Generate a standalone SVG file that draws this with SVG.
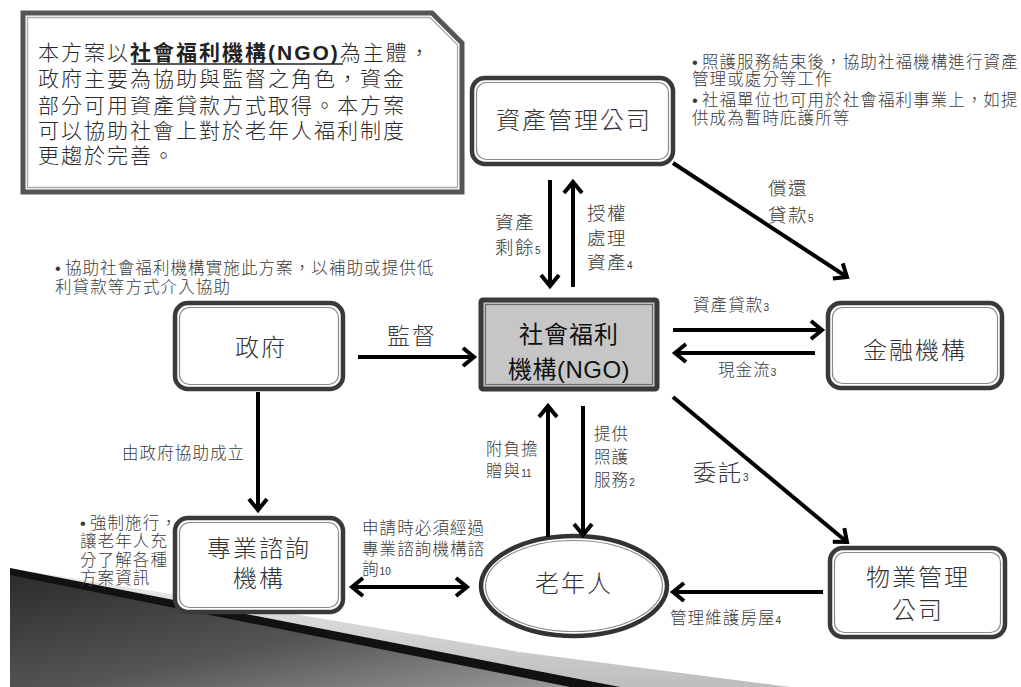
<svg xmlns="http://www.w3.org/2000/svg" width="1021" height="687" viewBox="0 0 1021 687">
<style>
text{font-family:"Liberation Sans","Noto Sans CJK TC",sans-serif;fill:#3a3a3a;font-weight:300}
.note{font-size:16.5px;letter-spacing:1.1px}
.lbl{font-size:18.5px;letter-spacing:1.5px}
.big{font-size:23px;letter-spacing:2px}
.node{font-size:24px;letter-spacing:2px;text-anchor:middle;fill:#333}
.intro{font-size:21px;letter-spacing:2px;fill:#2a2a2a}
.sub{font-size:10px;letter-spacing:0}
.outer{fill:#fff;stroke:#3a3a3a;stroke-width:4.5}
.inner{fill:none;stroke:#8a8a8a;stroke-width:1.2}
.conn line{stroke:#000;stroke-width:4;fill:none}
</style>
<defs>
<marker id="ah" viewBox="-14 -11 19 22" refX="0" refY="0" markerWidth="19" markerHeight="22" markerUnits="userSpaceOnUse" orient="auto-start-reverse">
<path d="M-11,-9 L0,0 L-11,9" fill="none" stroke="#000" stroke-width="4"/>
</marker>
<linearGradient id="dark" x1="0" y1="0" x2="1" y2="1">
<stop offset="0" stop-color="#2c2c2c"/>
<stop offset="0.55" stop-color="#555"/>
<stop offset="1" stop-color="#9a9a9a"/>
</linearGradient>
<linearGradient id="light" x1="0" y1="0" x2="0" y2="1">
<stop offset="0" stop-color="#eeeeee"/>
<stop offset="1" stop-color="#bdbdbd"/>
</linearGradient>
</defs>
<rect width="1021" height="687" fill="#fff"/>

<g id="decoration">
<polygon points="10,568 300,615 520,652 790,687 10,687" fill="url(#light)"/>
<polygon points="10,568 620,687 10,687" fill="#111"/>
<polygon points="10,575 570,687 10,687" fill="url(#dark)"/>
</g>

<g id="intro-box">
<path d="M23,13 H432 L462,43 V192 H23 Z" fill="#fff" stroke="#555" stroke-width="5"/>
<path d="M27.5,17.5 H430 L457.5,45 V187.5 H27.5 Z" fill="none" stroke="#aaa" stroke-width="1.3"/>
<text class="intro" x="38" y="60">本方案以<tspan font-weight="bold" fill="#222">社會福利機構(NGO)</tspan>為主體，</text>
<line x1="131" y1="64" x2="343" y2="64" stroke="#222" stroke-width="1.5"/>
<text class="intro" x="38" y="86">政府主要為協助與監督之角色，資金</text>
<text class="intro" x="38" y="113">部分可用資產貸款方式取得。本方案</text>
<text class="intro" x="38" y="138">可以協助社會上對於老年人福利制度</text>
<text class="intro" x="38" y="163">更趨於完善。</text>
</g>

<g id="notes">
<text class="note" x="692" y="68">•<tspan dx="3">照護服務結束後，協助社福機構進行資產</tspan></text>
<text class="note" x="692" y="85">管理或處分等工作</text>
<text class="note" x="692" y="106">•<tspan dx="3">社福單位也可用於社會福利事業上，如提</tspan></text>
<text class="note" x="692" y="124">供成為暫時庇護所等</text>
<text class="note" x="55" y="274">•<tspan dx="3">協助社會福利機構實施此方案，以補助或提供低</tspan></text>
<text class="note" x="55" y="293">利貸款等方式介入協助</text>
<text class="note" x="80" y="529">•<tspan dx="3">強制施行，</tspan></text>
<text class="note" x="80" y="547">讓老年人充</text>
<text class="note" x="80" y="566">分了解各種</text>
<text class="note" x="80" y="584">方案資訊</text>
</g>

<g id="node-asset">
<rect class="outer" x="472" y="78" width="201" height="86" rx="13"/>
<rect class="inner" x="476.5" y="82.5" width="192" height="77" rx="10"/>
<text class="node" x="574" y="129">資產管理公司</text>
</g>

<g id="node-gov">
<rect class="outer" x="175" y="303" width="168" height="86" rx="13"/>
<rect class="inner" x="179.5" y="307.5" width="159" height="77" rx="10"/>
<text class="node" x="261" y="356">政府</text>
</g>

<g id="node-ngo">
<rect x="481" y="300" width="176" height="89" fill="#c6c6c6" stroke="#3a3a3a" stroke-width="5" rx="2"/>
<rect x="485.5" y="304.5" width="167" height="80" fill="none" stroke="#6a6a6a" stroke-width="1.2"/>
<text class="node" x="569" y="343" style="fill:#111;letter-spacing:1px;font-weight:400">社會福利</text>
<text class="node" x="569" y="378" style="fill:#111;letter-spacing:0.5px;font-weight:400">機構(NGO)</text>
</g>

<g id="node-finance">
<rect class="outer" x="828" y="303" width="174" height="85" rx="13"/>
<rect class="inner" x="832.5" y="307.5" width="165" height="76" rx="10"/>
<text class="node" x="915" y="359">金融機構</text>
</g>

<g id="node-consult">
<rect class="outer" x="175" y="518" width="168" height="94" rx="13"/>
<rect class="inner" x="179.5" y="522.5" width="159" height="85" rx="10"/>
<text class="node" x="259" y="557">專業諮詢</text>
<text class="node" x="259" y="587">機構</text>
</g>

<g id="node-elder">
<ellipse cx="574" cy="586" rx="93" ry="50" fill="#fff" stroke="#333" stroke-width="4.5"/>
<ellipse cx="574" cy="586" rx="88.5" ry="45.5" fill="none" stroke="#8a8a8a" stroke-width="1.2"/>
<text class="node" x="574" y="592">老年人</text>
</g>

<g id="node-property">
<rect class="outer" x="830" y="548" width="175" height="89" rx="13"/>
<rect class="inner" x="834.5" y="552.5" width="166" height="80" rx="10"/>
<text class="node" x="918" y="586">物業管理</text>
<text class="node" x="918" y="619">公司</text>
</g>

<g id="connectors" class="conn">
<line x1="358" y1="357" x2="474" y2="357" marker-end="url(#ah)"/>
<line x1="258" y1="392" x2="258" y2="510" marker-end="url(#ah)"/>
<line x1="550" y1="180" x2="550" y2="286" marker-end="url(#ah)"/>
<line x1="573" y1="287" x2="573" y2="182" marker-end="url(#ah)"/>
<line x1="673" y1="163" x2="847" y2="277" marker-end="url(#ah)"/>
<line x1="673" y1="330" x2="822" y2="330" marker-end="url(#ah)"/>
<line x1="815" y1="353" x2="675" y2="353" marker-end="url(#ah)"/>
<line x1="673" y1="397" x2="847" y2="542" marker-end="url(#ah)"/>
<line x1="548" y1="537" x2="548" y2="406" marker-end="url(#ah)"/>
<line x1="583" y1="406" x2="583" y2="535" marker-end="url(#ah)"/>
<line x1="352" y1="587" x2="467" y2="587" marker-start="url(#ah)" marker-end="url(#ah)"/>
<line x1="823" y1="592" x2="673" y2="592" marker-end="url(#ah)"/>
</g>

<g id="connector-labels">
<text class="big" x="387" y="344">監督</text>
<text class="note" x="122" y="459">由政府協助成立</text>
<text class="lbl" x="495" y="229">資產</text>
<text class="lbl" x="495" y="254">剩餘<tspan class="sub">5</tspan></text>
<text class="lbl" x="587" y="220">授權</text>
<text class="lbl" x="587" y="245">處理</text>
<text class="lbl" x="587" y="269">資產<tspan class="sub">4</tspan></text>
<text class="lbl" x="768" y="195">償還</text>
<text class="lbl" x="768" y="222">貸款<tspan class="sub">5</tspan></text>
<text class="note" x="693" y="311">資產貸款<tspan class="sub">3</tspan></text>
<text class="note" x="718" y="376">現金流<tspan class="sub">3</tspan></text>
<text class="big" x="693" y="481">委託<tspan class="sub">3</tspan></text>
<text class="note" x="486" y="455">附負擔</text>
<text class="note" x="486" y="477">贈與<tspan class="sub">11</tspan></text>
<text class="note" x="594" y="440">提供</text>
<text class="note" x="594" y="463">照護</text>
<text class="note" x="594" y="486">服務<tspan class="sub">2</tspan></text>
<text class="note" x="362" y="534">申請時必須經過</text>
<text class="note" x="362" y="555">專業諮詢機構諮</text>
<text class="note" x="362" y="575">詢<tspan class="sub">10</tspan></text>
<text class="note" x="670" y="624">管理維護房屋<tspan class="sub">4</tspan></text>
</g>
</svg>
